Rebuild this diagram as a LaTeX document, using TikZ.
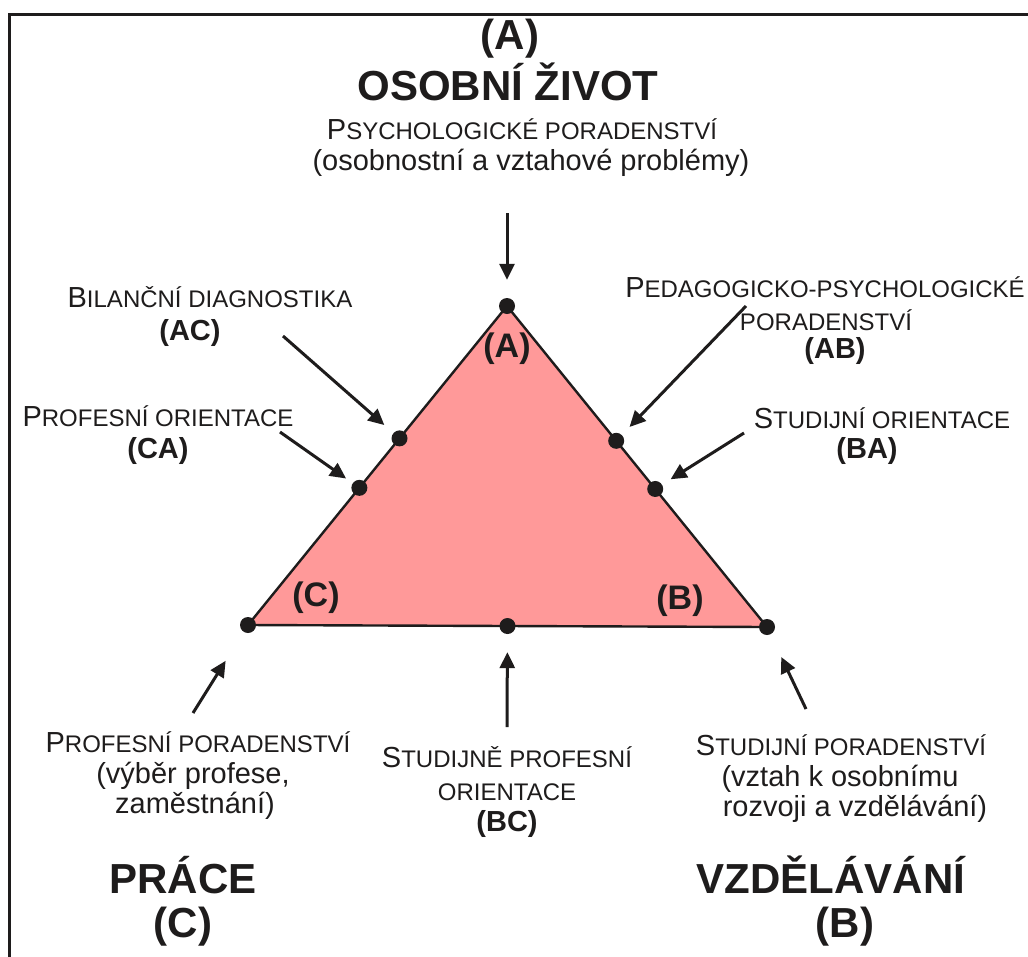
\documentclass[tikz,border=0pt]{standalone}
\usepackage{fontspec}
\setmainfont{Liberation Sans}
\usetikzlibrary{arrows.meta,calc}
\definecolor{ink}{RGB}{30,28,28}
\definecolor{trifill}{RGB}{255,153,153}
% synthetic small capitals: full-size initial, smaller capitals after it
\newcommand\fakesc[2]{#1{\fontsize{24}{28}\selectfont #2}}
\begin{document}
\begin{tikzpicture}[x=1pt,y=-1pt,
  frame/.style={draw=ink,line width=3pt},
  tri/.style={draw=ink,line width=2.4pt,fill=trifill,line join=miter},
  dot/.style={circle,fill=ink,draw=none,inner sep=0pt,minimum size=16pt},
  arr/.style={draw=ink,line width=3pt,-{Triangle[length=16pt,width=15pt]}},
  txt/.style={anchor=base,inner sep=0pt,text=ink,font=\fontsize{29}{33}\selectfont},
  bold/.style={txt,font=\fontsize{29}{33}\selectfont\bfseries},
  big/.style={txt,font=\fontsize{42}{48}\selectfont\bfseries},
  vlab/.style={txt,font=\fontsize{34}{40}\selectfont\bfseries}]
\useasboundingbox (0,0) rectangle (1028,956);
\clip (0,0) rectangle (1028,956);
\fill[white] (0,0) rectangle (1028,956);

% open frame along the left and top edges
\draw[frame] (9.5,980) -- (9.5,14.3) -- (1050,14.3);

% triangle with its corner points
\coordinate (A) at (507,306);
\coordinate (C) at (248,625);
\coordinate (B) at (767,627);
\filldraw[tri] (A) -- (B) -- (C) -- cycle;

\node[dot] (dA) at (A) {};
\node[dot] (dB) at (B) {};
\node[dot] (dC) at (C) {};
\node[dot] (dBC) at ($(C)!0.5!(B)$) {};
\node[dot] (dAC) at ($(A)!0.415!(C)$) {};
\node[dot] (dCA) at ($(A)!0.57!(C)$) {};
\node[dot] (dAB) at ($(A)!0.42!(B)$) {};
\node[dot] (dBA) at ($(A)!0.57!(B)$) {};

% corner letters inside the triangle
\node[vlab] (inA) at (507,357) {(A)};
\node[vlab] (inC) at (316,606) {(C)};
\node[vlab] (inB) at (680,609) {(B)};

% top heading
\node[big] (hA1) at (510,49) {(A)};
\node[big] (hA2) at (508,100) {OSOBNÍ ŽIVOT};
\node[txt] (pA1) at (522,139) {\fakesc{P}{SYCHOLOGICKÉ PORADENSTVÍ}};
\node[txt] (pA2) at (531,170) {(osobnostní a vztahové problémy)};

% left side labels
\node[txt] (lAC1) at (210,307) {\fakesc{B}{ILANČNÍ DIAGNOSTIKA}};
\node[bold] (lAC2) at (190,340) {(AC)};
\node[txt] (lCA1) at (158,426) {\fakesc{P}{ROFESNÍ ORIENTACE}};
\node[bold] (lCA2) at (158,458) {(CA)};

% right side labels
\node[txt] (lAB1) at (825,297) {\fakesc{P}{EDAGOGICKO-PSYCHOLOGICKÉ}};
\node[txt] (lAB2) at (826,330) {\fakesc{}{PORADENSTVÍ}};
\node[bold] (lAB3) at (835,358) {(AB)};
\node[txt] (lBA1) at (882,428) {\fakesc{S}{TUDIJNÍ ORIENTACE}};
\node[bold] (lBA2) at (867,458) {(BA)};

% bottom labels
\node[txt] (pC1) at (198,752) {\fakesc{P}{ROFESNÍ PORADENSTVÍ}};
\node[txt] (pC2) at (193,783) {(výběr profese,};
\node[txt] (pC3) at (195,813) {zaměstnání)};
\node[txt] (lBC1) at (507,767) {\fakesc{S}{TUDIJNĚ PROFESNÍ}};
\node[txt] (lBC2) at (507,800) {\fakesc{}{ORIENTACE}};
\node[bold] (lBC3) at (507,831) {(BC)};
\node[txt] (pB1) at (841,755) {\fakesc{S}{TUDIJNÍ PORADENSTVÍ}};
\node[txt] (pB2) at (840,786) {(vztah k osobnímu};
\node[txt] (pB3) at (855,816) {rozvoji a vzdělávání)};

% bottom headings
\node[big] (hC1) at (183,893) {PRÁCE};
\node[big] (hC2) at (183,937) {(C)};
\node[big] (hB1) at (831,893) {VZDĚLÁVÁNÍ};
\node[big] (hB2) at (845,937) {(B)};

% arrow tails
\coordinate (tA) at (507,213);
\coordinate (tAC) at (283,336);
\coordinate (tCA) at (280,432);
\coordinate (tAB) at (746,306);
\coordinate (tBA) at (744,433);
\coordinate (tC) at (193,713);
\coordinate (tBC) at (507,727);
\coordinate (tB) at (806,709);

% arrows pointing at the triangle
\draw[arr,shorten >=18pt] (tA) -- (dA);
\draw[arr,shorten >=12pt] (tAC) -- (dAC);
\draw[arr,shorten >=8pt] (tCA) -- (dCA);
\draw[arr,shorten >=11pt] (tAB) -- (dAB);
\draw[arr,shorten >=10pt] (tBA) -- (dBA);
\draw[arr,shorten >=34pt] (tC) -- (dC);
\draw[arr,shorten >=18pt] (tBC) -- (dBC);
\draw[arr,shorten >=25pt] (tB) -- (dB);
\end{tikzpicture}
\end{document}
